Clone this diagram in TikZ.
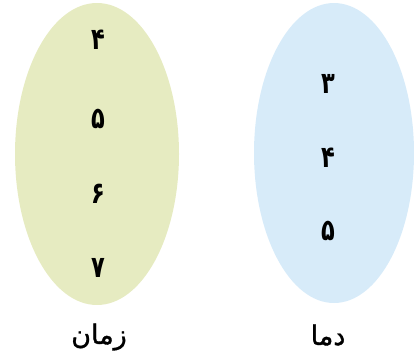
\documentclass[tikz,border=0pt]{standalone}
\usepackage{fontspec}
\TeXXeTstate=1
\newfontfamily\arabicfont[Script=Arabic,FakeBold=1.2]{DejaVu Sans}
\newfontfamily\digitfont[Script=Arabic,FakeStretch=0.75]{DejaVu Sans}
\definecolor{setgreen}{RGB}{230,235,193}
\definecolor{setblue}{RGB}{215,235,249}
\begin{document}
\begin{tikzpicture}[x=1pt,y=-1pt,
  digit/.style={font=\digitfont\bfseries\fontsize{30}{34}\selectfont, inner sep=0pt},
  setlabel/.style={font=\arabicfont\fontsize{27}{32}\selectfont, inner sep=0pt}]
\useasboundingbox (0,0) rectangle (414,360);
\fill[setgreen] (97,154) ellipse [x radius=82, y radius=151];
\fill[setblue] (334,153) ellipse [x radius=80, y radius=150];
\node[digit] (l4) at (98,40) {\beginR ۴\endR};
\node[digit] (l5) at (98,119) {\beginR ۵\endR};
\node[digit] (l6) at (98,194) {\beginR ۶\endR};
\node[digit] (l7) at (98,268) {\beginR ۷\endR};
\node[digit] (r3) at (328,84) {\beginR ۳\endR};
\node[digit] (r4) at (328,158) {\beginR ۴\endR};
\node[digit] (r5) at (328,231) {\beginR ۵\endR};
\node[setlabel] (time) at (99,337) {\beginR زمان\endR};
\node[setlabel] (temp) at (328,335) {\beginR دما\endR};
\end{tikzpicture}
\end{document}
